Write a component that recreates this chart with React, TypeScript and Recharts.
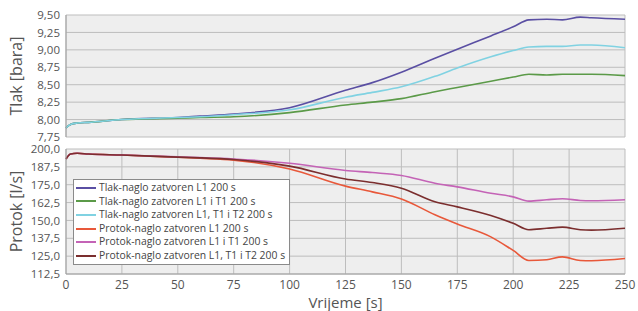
import { LineChart, Line, XAxis, YAxis, CartesianGrid, Legend } from 'recharts'

const vrijeme = [0, 2, 5, 10, 25, 50, 60, 75, 100, 125, 137, 150, 165, 175, 190, 200, 207, 215, 222, 230, 235, 250]

const tlakL1 = [7.88, 7.93, 7.95, 7.96, 8.0, 8.03, 8.05, 8.08, 8.17, 8.42, 8.53, 8.68, 8.88, 9.01, 9.2, 9.33, 9.43, 9.44, 9.43, 9.47, 9.46, 9.44]
const tlakL1T1 = [7.88, 7.93, 7.95, 7.96, 8.0, 8.02, 8.03, 8.04, 8.1, 8.21, 8.25, 8.3, 8.4, 8.46, 8.55, 8.61, 8.65, 8.64, 8.65, 8.65, 8.65, 8.63]
const tlakL1T1T2 = [7.88, 7.93, 7.95, 7.96, 8.0, 8.03, 8.04, 8.07, 8.14, 8.32, 8.39, 8.47, 8.62, 8.74, 8.9, 8.99, 9.04, 9.05, 9.05, 9.07, 9.07, 9.03]

const protokL1 = [193, 196.5, 197, 196.5, 195.8, 194.2, 193.5, 192.2, 186, 174, 170, 165, 154, 147.5, 138.5, 129, 122, 122.5, 124.5, 122, 121.8, 123.3]
const protokL1T1 = [193, 196.5, 197, 196.5, 195.8, 194.5, 194, 193, 190, 185, 183.5, 181.5, 176, 173.5, 169, 166.5, 163.5, 164.5, 165.2, 164, 163.8, 164.5]
const protokL1T1T2 = [193, 196.5, 197, 196.5, 195.8, 194.3, 193.8, 192.6, 188, 179, 176.5, 172.5, 163, 159.5, 153.5, 148, 143.5, 144.5, 145.3, 143.5, 143.2, 144.5]

const vrijemeTicks = [0, 25, 50, 75, 100, 125, 150, 175, 200, 225, 250]
const tlakTicks = [7.75, 8.0, 8.25, 8.5, 8.75, 9.0, 9.25, 9.5]
const protokTicks = [112.5, 125, 137.5, 150, 162.5, 175, 187.5, 200]

const tlakSeries = [
  { key: 'tlakL1', name: 'Tlak-naglo zatvoren L1 200 s', color: '#5a4fa3' },
  { key: 'tlakL1T1', name: 'Tlak-naglo zatvoren L1 i T1 200 s', color: '#5b9a48' },
  { key: 'tlakL1T1T2', name: 'Tlak-naglo zatvoren L1, T1 i T2 200 s', color: '#80d2e2' },
]
const protokSeries = [
  { key: 'protokL1', name: 'Protok-naglo zatvoren L1 200 s', color: '#e8583a' },
  { key: 'protokL1T1', name: 'Protok-naglo zatvoren L1 i T1 200 s', color: '#c463b6' },
  { key: 'protokL1T1T2', name: 'Protok-naglo zatvoren L1, T1 i T2 200 s', color: '#7b2e2e' },
]

const data = vrijeme.map((t, i) => ({
  t,
  tlakL1: tlakL1[i],
  tlakL1T1: tlakL1T1[i],
  tlakL1T1T2: tlakL1T1T2[i],
  protokL1: protokL1[i],
  protokL1T1: protokL1T1[i],
  protokL1T1T2: protokL1T1T2[i],
}))

const font = '"Open Sans", sans-serif'
const textColor = '#555'
const tickStyle = { fill: textColor, fontSize: 11.5, fontFamily: font }
const xTickStyle = { fill: textColor, fontSize: 12, fontFamily: font }
const titleStyle = { fill: textColor, fontSize: 16, fontFamily: font, textAnchor: 'middle' as const }
const gridFill = '#eeeeee'
const gridStroke = '#bdbdbd'

function LegendBox() {
  return (
    <div
      style={{
        border: '1px solid #8a8a8a',
        background: '#fff',
        padding: '1px 4px 1px 2px',
        fontFamily: font,
        fontSize: 10.4,
        color: '#444',
        lineHeight: '13.6px',
      }}
    >
      {[...tlakSeries, ...protokSeries].map((s) => (
        <div key={s.key} style={{ display: 'flex', alignItems: 'center', whiteSpace: 'nowrap' }}>
          <span style={{ display: 'inline-block', width: 20, height: 2, background: s.color, marginRight: 3 }} />
          {s.name}
        </div>
      ))}
    </div>
  )
}

export default function App() {
  return (
    <div style={{ position: 'absolute', left: 0, top: 0, width: 638, height: 311, background: '#fff' }}>
      <div style={{ position: 'absolute', left: 0, top: 0 }}>
        <LineChart width={638} height={146} data={data} margin={{ top: 15, right: 13, bottom: 9, left: 10 }}>
          <CartesianGrid fill={gridFill} stroke={gridStroke} strokeWidth={1} />
          <XAxis
            dataKey="t"
            type="number"
            domain={[0, 250]}
            ticks={vrijemeTicks}
            height={0}
            tick={false}
            axisLine={false}
            tickLine={false}
          />
          <YAxis
            type="number"
            domain={[7.75, 9.5]}
            ticks={tlakTicks}
            interval={0}
            width={56}
            tick={tickStyle}
            tickLine={false}
            tickSize={0}
            tickMargin={6}
            axisLine={{ stroke: '#a0a0a0' }}
            tickFormatter={(v: number) => v.toFixed(2).replace('.', ',')}
            label={{ value: 'Tlak [bara]', angle: -90, position: 'insideLeft', offset: 6, style: titleStyle }}
          />
          {tlakSeries.map((s) => (
            <Line
              key={s.key}
              dataKey={s.key}
              name={s.name}
              type="monotone"
              stroke={s.color}
              strokeWidth={1.6}
              dot={false}
              isAnimationActive={false}
            />
          ))}
        </LineChart>
      </div>
      <div style={{ position: 'absolute', left: 0, top: 130 }}>
        <LineChart width={638} height={181} data={data} margin={{ top: 19, right: 13, bottom: 0, left: 10 }}>
          <CartesianGrid fill={gridFill} stroke={gridStroke} strokeWidth={1} />
          <XAxis
            dataKey="t"
            type="number"
            domain={[0, 250]}
            ticks={vrijemeTicks}
            interval={0}
            height={37}
            tick={xTickStyle}
            tickLine={false}
            tickSize={0}
            tickMargin={6}
            axisLine={{ stroke: '#a0a0a0' }}
            label={{ value: 'Vrijeme [s]', position: 'insideBottom', offset: 3, style: { ...titleStyle, fontSize: 15 } }}
          />
          <YAxis
            type="number"
            domain={[112.5, 200]}
            ticks={protokTicks}
            interval={0}
            width={56}
            tick={tickStyle}
            tickLine={false}
            tickSize={0}
            tickMargin={6}
            axisLine={{ stroke: '#a0a0a0' }}
            tickFormatter={(v: number) => v.toFixed(1).replace('.', ',')}
            label={{ value: 'Protok [l/s]', angle: -90, position: 'insideLeft', offset: 6, style: titleStyle }}
          />
          <Legend
            layout="vertical"
            align="center"
            verticalAlign="middle"
            content={() => <LegendBox />}
            wrapperStyle={{ position: 'absolute', left: 73, top: 49, width: 'auto' }}
          />
          {protokSeries.map((s) => (
            <Line
              key={s.key}
              dataKey={s.key}
              name={s.name}
              type="monotone"
              stroke={s.color}
              strokeWidth={1.6}
              dot={false}
              isAnimationActive={false}
            />
          ))}
        </LineChart>
      </div>
    </div>
  )
}
